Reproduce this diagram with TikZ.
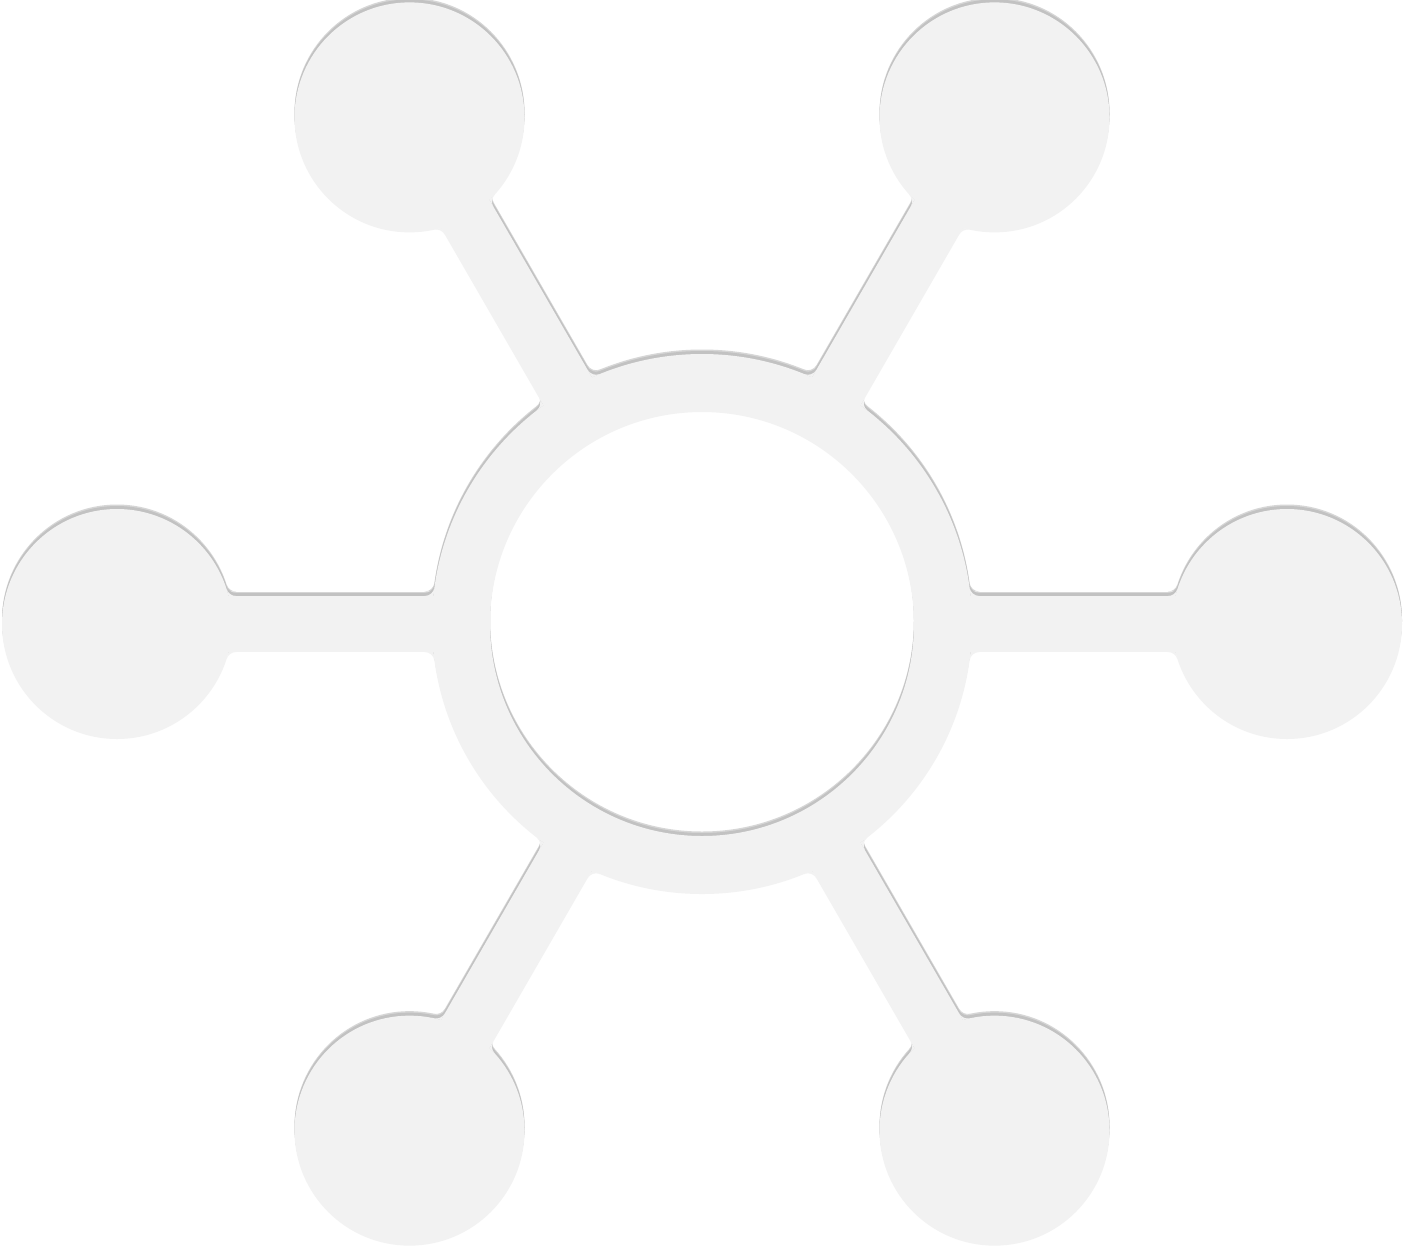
\documentclass[tikz,border=0pt]{standalone}
\usetikzlibrary{calc}
\definecolor{feltfill}{HTML}{F2F2F2}
\definecolor{shadowlight}{HTML}{D6D6D6}
\definecolor{shadowdark}{HTML}{C2C2C2}
\tikzset{
  sat/.style={circle, minimum size=230pt, inner sep=0pt, draw=none},
}
% fillet patches on both sides of a spoke meeting a circle of radius #1 (local frame: spoke along +x)
\newcommand\filletpair[2]{%
  \pgfmathsetmacro\filA{10*sqrt(((#1+10)/10)^2-3.8^2)}%
  \pgfmathsetmacro\filC{10*sqrt((#1/10)^2-2.8^2)}%
  \pgfmathsetmacro\filK{#1/(#1+10)}%
  \pgfmathsetmacro\filTx{\filK*\filA}%
  \pgfmathsetmacro\filTy{\filK*38}%
  \pgfmathsetmacro\filAl{atan(38/\filA)}%
  \fill[#2] (\filA pt,28pt) -- (\filC pt,28pt) -- (\filTx pt,\filTy pt)
     arc[start angle=180+\filAl, end angle=270, radius=10pt] -- cycle;
  \fill[#2] (\filA pt,-28pt) -- (\filC pt,-28pt) -- (\filTx pt,-\filTy pt)
     arc[start angle=180-\filAl, end angle=90, radius=10pt] -- cycle;
}
\newcommand\drawlayer[1]{%
  \coordinate (hub) at (702,624);
  \fill[#1, even odd rule] (hub) circle[radius=270pt] (hub) circle[radius=212pt];
  \foreach \i/\ang in {1/0,2/60,3/120,4/180,5/240,6/300}{
    \node[sat, fill=#1] (s\i) at ($(hub)+(\ang:585pt)$) {};
    \draw[#1, line width=56pt] ($(hub)!240pt!(s\i)$) -- (s\i.center);
    \begin{scope}[shift={(702,624)}, rotate=\ang]
      \filletpair{270}{#1}
    \end{scope}
    \begin{scope}[shift={(702,624)}, rotate=\ang, xshift=585pt, rotate=180]
      \filletpair{115}{#1}
    \end{scope}
  }
}
\begin{document}
\begin{tikzpicture}[x=1pt, y=-1pt]
  \useasboundingbox (0,0) rectangle (1404,1248);
  \fill[white] (0,0) rectangle (1404,1248);
  \begin{scope}[yshift=4.5pt]
    \drawlayer{shadowlight}
  \end{scope}
  \begin{scope}[yshift=3pt]
    \drawlayer{shadowdark}
  \end{scope}
  \drawlayer{feltfill}
\end{tikzpicture}
\end{document}
